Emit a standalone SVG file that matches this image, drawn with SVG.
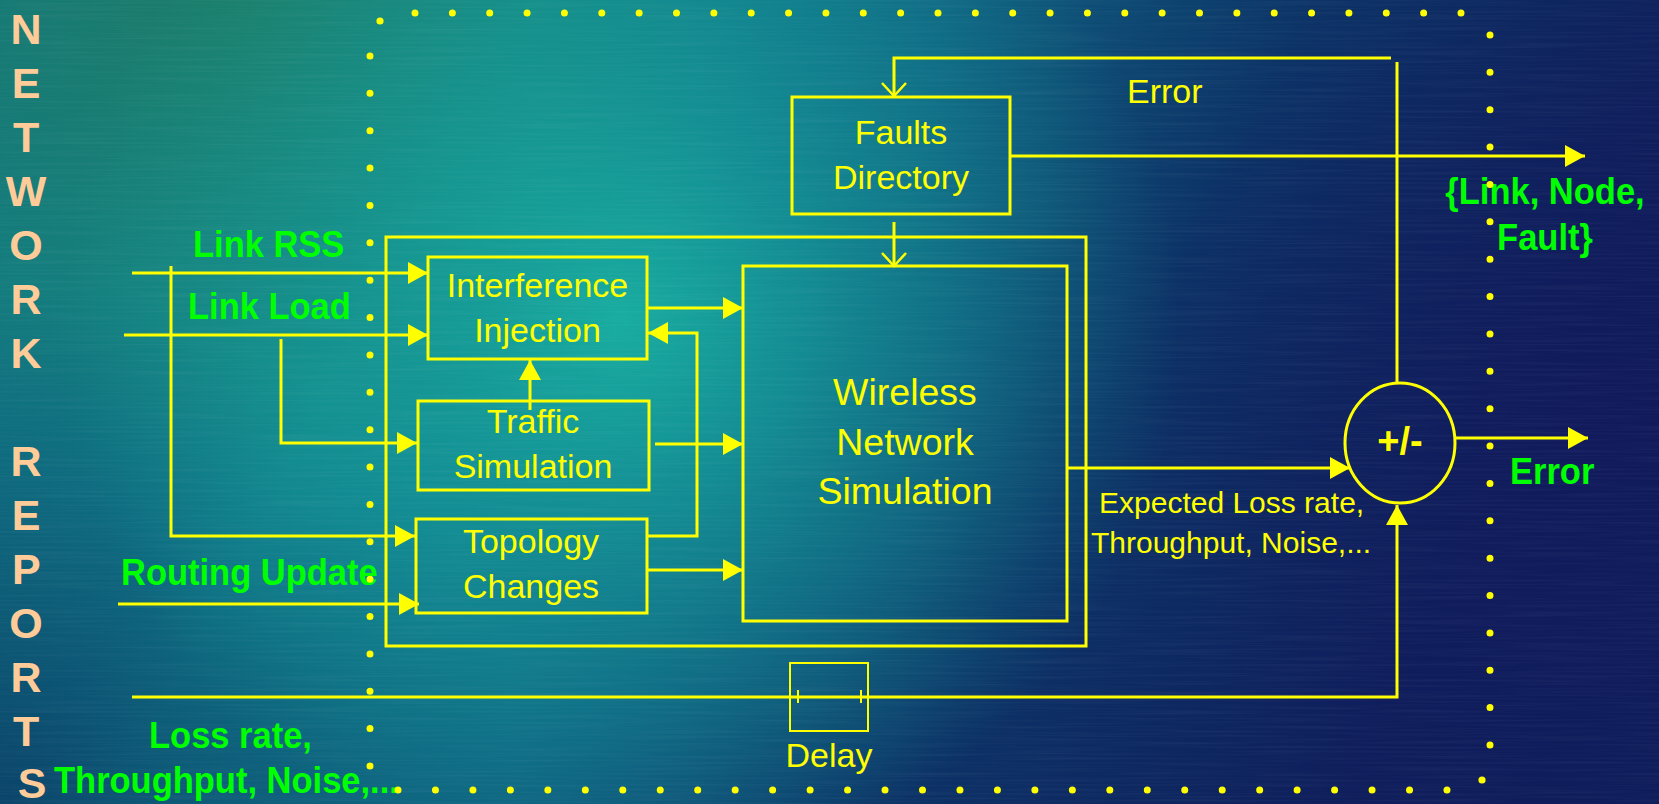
<svg xmlns="http://www.w3.org/2000/svg" width="1659" height="804" viewBox="0 0 1659 804">
  <defs>
    <linearGradient id="bgBase" x1="0" y1="0" x2="1" y2="0.25">
      <stop offset="0" stop-color="#107782"/>
      <stop offset="0.3" stop-color="#118A92"/>
      <stop offset="0.55" stop-color="#0E5C7E"/>
      <stop offset="0.75" stop-color="#0C3266"/>
      <stop offset="1" stop-color="#0F1E5C"/>
    </linearGradient>
    <radialGradient id="glow" cx="620" cy="320" r="560" gradientUnits="userSpaceOnUse">
      <stop offset="0" stop-color="#19B3A3" stop-opacity="0.9"/>
      <stop offset="0.5" stop-color="#15A09C" stop-opacity="0.5"/>
      <stop offset="1" stop-color="#15A09C" stop-opacity="0"/>
    </radialGradient>
    <radialGradient id="topTint" cx="250" cy="0" r="520" gradientUnits="userSpaceOnUse">
      <stop offset="0" stop-color="#1F7C62" stop-opacity="0.85"/>
      <stop offset="1" stop-color="#1F7C62" stop-opacity="0"/>
    </radialGradient>
    <radialGradient id="lowShade" cx="0" cy="804" r="520" gradientUnits="userSpaceOnUse">
      <stop offset="0" stop-color="#0A3C66" stop-opacity="0.9"/>
      <stop offset="1" stop-color="#0A3C66" stop-opacity="0"/>
    </radialGradient>
    <radialGradient id="rightShade" cx="1620" cy="420" r="480" gradientUnits="userSpaceOnUse">
      <stop offset="0" stop-color="#111A5C" stop-opacity="0.9"/>
      <stop offset="1" stop-color="#111A5C" stop-opacity="0"/>
    </radialGradient>
    <filter id="brushed" x="0" y="0" width="100%" height="100%">
      <feTurbulence type="fractalNoise" baseFrequency="0.008 0.45" numOctaves="2" seed="7"/>
      <feColorMatrix type="matrix" values="0 0 0 0 1  0 0 0 0 1  0 0 0 0 1  1 0 0 0 -0.4"/>
    </filter>
    <marker id="arrow" viewBox="0 0 20 22" markerWidth="20" markerHeight="22" refX="20" refY="11" orient="auto" markerUnits="userSpaceOnUse">
      <path d="M0,0 L20,11 L0,22 z" fill="#FFFF00"/>
    </marker>
    <marker id="vee" viewBox="0 0 16 26" markerWidth="16" markerHeight="26" refX="14" refY="13" orient="auto" markerUnits="userSpaceOnUse">
      <path d="M1,1 L14,13 L1,25" fill="none" stroke="#FFFF00" stroke-width="2.5"/>
    </marker>
  </defs>
  <style>
    .box { fill: none; stroke: #FFFF00; stroke-width: 3; }
    .thin { fill: none; stroke: #FFFF00; stroke-width: 2; }
    .wire { fill: none; stroke: #FFFF00; stroke-width: 3; }
    .arr { marker-end: url(#arrow); }
    .open { marker-end: url(#vee); }
    .lbl { font-family: "Liberation Sans", Arial, sans-serif; fill: #FFFF00; font-size: 34px; text-anchor: middle; }
    .big { font-size: 37.5px; }
    .sign { font-size: 38px; font-weight: bold; }
    .lead { text-anchor: start; }
    .note { font-family: "Liberation Sans", Arial, sans-serif; fill: #FFFF00; font-size: 30px; }
    .in { font-family: "Liberation Sans", Arial, sans-serif; font-weight: bold; fill: #00FF00; font-size: 34.5px; }
    .mid { text-anchor: middle; }
    .side { font-family: "Liberation Sans", Arial, sans-serif; font-weight: bold; fill: #FFCC99; font-size: 43px; text-anchor: middle; }
    .dots { fill: none; stroke: #FFFF00; stroke-width: 7; stroke-linecap: round; }
  </style>

  <!-- background -->
  <rect width="1659" height="804" fill="url(#bgBase)"/>
  <rect width="1659" height="804" fill="url(#topTint)"/>
  <rect width="1659" height="804" fill="url(#lowShade)"/>
  <rect width="1659" height="804" fill="url(#rightShade)"/>
  <rect width="1659" height="804" fill="url(#glow)"/>
  <rect width="1659" height="804" filter="url(#brushed)" opacity="0.09"/>

  <!-- vertical side caption -->
  <text class="side" x="32">
    <tspan x="32" y="44">N</tspan>
    <tspan x="32" y="98">E</tspan>
    <tspan x="32" y="152">T</tspan>
    <tspan x="32" y="206">W</tspan>
    <tspan x="32" y="260">O</tspan>
    <tspan x="32" y="314">R</tspan>
    <tspan x="32" y="368">K</tspan>
    <tspan x="32" y="476">R</tspan>
    <tspan x="32" y="530">E</tspan>
    <tspan x="32" y="584">P</tspan>
    <tspan x="32" y="638">O</tspan>
    <tspan x="32" y="692">R</tspan>
    <tspan x="32" y="746">T</tspan>
    <tspan x="32" y="798">S</tspan>
  </text>

  <!-- input labels (slightly tall lettering) -->
  <g id="inputs">
    <text class="in" transform="translate(193,257) scale(1,1.08)">Link RSS</text>
    <text class="in" transform="translate(188,319) scale(1,1.08)">Link Load</text>
    <text class="in" transform="translate(121,585) scale(1,1.08)">Routing Update</text>
    <text class="in" transform="translate(149,748) scale(1,1.08)">Loss rate,</text>
    <text class="in" transform="translate(54,793) scale(1,1.08)">Throughput, Noise,...</text>
  </g>

  <!-- connectors -->
  <g id="connectors">
    <path class="wire arr" d="M132,273 H428"/>
    <path class="wire arr" d="M171,266 V536 H415"/>
    <path class="wire arr" d="M124,335 H428"/>
    <path class="wire arr" d="M281,339 V443 H417"/>
    <path class="wire arr" d="M118,604 H419"/>
    <path class="wire arr" d="M132,697 H1397 V505"/>
    <path class="wire arr" d="M647,308 H743"/>
    <path class="wire arr" d="M655,444 H743"/>
    <path class="wire arr" d="M647,570 H743"/>
    <path class="wire arr" d="M647,536 H697 V333 H648"/>
    <path class="wire arr" d="M530,410 V360"/>
    <path class="wire open" d="M894,222 V266"/>
    <path class="wire open" d="M1391,58 H894 V96"/>
    <path class="wire" d="M1397,62 V384"/>
    <path class="wire arr" d="M1010,156 H1585"/>
    <path class="wire arr" d="M1067,468 H1350"/>
    <path class="wire arr" d="M1455,438 H1588"/>
    <!-- delay element ticks -->
    <path class="thin" d="M798,690 V703 M861,690 V703" stroke-width="1.5"/>
  </g>

  <g id="frame">
    <rect class="box" x="386" y="237" width="700" height="409"/>
  </g>

  <g id="interference">
    <rect class="box" x="428" y="257" width="219" height="102"/>
    <text class="lbl" x="537.5" y="297">Interference</text>
    <text class="lbl" x="537.5" y="342">Injection</text>
  </g>

  <g id="traffic">
    <rect class="box" x="418" y="401" width="231" height="89"/>
    <text class="lbl" x="533" y="433">Traffic</text>
    <text class="lbl" x="533" y="478">Simulation</text>
  </g>

  <g id="topology">
    <rect class="box" x="416" y="519" width="231" height="94"/>
    <text class="lbl" x="531" y="553">Topology</text>
    <text class="lbl" x="531" y="598">Changes</text>
  </g>

  <g id="wireless">
    <rect class="box" x="743" y="266" width="324" height="355"/>
    <text class="lbl big" x="905" y="405">Wireless</text>
    <text class="lbl big" x="905" y="455">Network</text>
    <text class="lbl big" x="905" y="504">Simulation</text>
  </g>

  <g id="faults">
    <rect class="box" x="792" y="97" width="218" height="117"/>
    <text class="lbl" x="901" y="144">Faults</text>
    <text class="lbl" x="901" y="189">Directory</text>
  </g>

  <g id="delay">
    <rect class="thin" x="790" y="663" width="78" height="68"/>
    <text class="lbl" x="829" y="767">Delay</text>
  </g>

  <g id="comparator">
    <ellipse class="box" cx="1400" cy="443" rx="55" ry="60"/>
    <text class="lbl sign" x="1400" y="454">+/-</text>
  </g>

  <g id="outputs">
    <text class="lbl lead" x="1127" y="103">Error</text>
    <text class="note" x="1099" y="513">Expected Loss rate,</text>
    <text class="note" x="1091" y="553">Throughput, Noise,...</text>
    <text class="in mid" transform="translate(1545,204) scale(1,1.08)">{Link, Node,</text>
    <text class="in mid" transform="translate(1545,250) scale(1,1.08)">Fault}</text>
    <text class="in" transform="translate(1510,484) scale(1,1.08)">Error</text>
  </g>

  <!-- dotted boundary -->
  <g id="boundary">
    <path class="dots" d="M370,56 V766" stroke-dasharray="0 37.368"/>
    <path class="dots" d="M415,13 H1461" stroke-dasharray="0 37.357"/>
    <path class="dots" d="M1490,35 V745" stroke-dasharray="0 37.368"/>
    <path class="dots" d="M398,790 H1447" stroke-dasharray="0 37.464"/>
    <circle cx="380" cy="21" r="3.6" fill="#FFFF00"/>
    <circle cx="1482" cy="780" r="3.6" fill="#FFFF00"/>
  </g>
</svg>
